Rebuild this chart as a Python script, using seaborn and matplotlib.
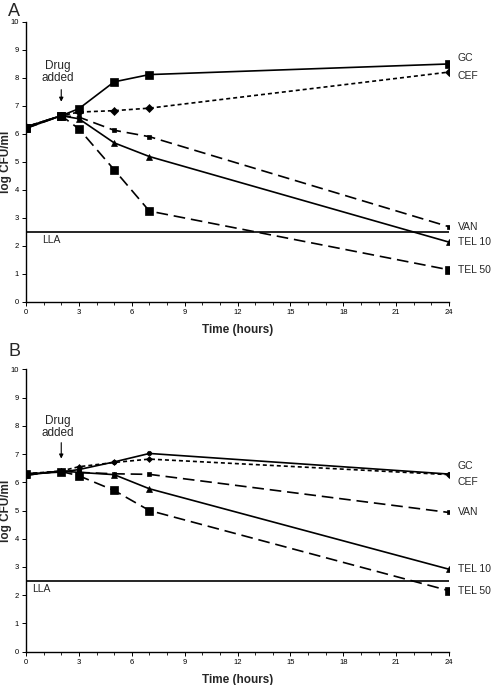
import matplotlib
matplotlib.use("Agg")
import matplotlib.pyplot as plt
import seaborn as sns
import numpy as np
import pandas as pd

sns.set_theme(style="white")
plt.rcParams['font.family'] = ['Liberation Sans', 'DejaVu Sans']

times = [0, 2, 3, 5, 7, 24]
series_names = ["GC", "CEF", "VAN", "TEL 10", "TEL 50"]

# Panel A values (log CFU/ml)
a_gc = [6.2, 6.65, 6.9, 7.86, 8.12, 8.5]
a_cef = [6.25, 6.65, 6.78, 6.83, 6.92, 8.21]
a_van = [6.25, 6.65, 6.6, 6.13, 5.9, 2.68]
a_tel10 = [6.25, 6.65, 6.54, 5.68, 5.19, 2.13]
a_tel50 = [6.2, 6.65, 6.18, 4.72, 3.24, 1.14]

# Panel B values
b_gc = [6.3, 6.36, 6.45, 6.72, 7.02, 6.29]
b_cef = [6.3, 6.4, 6.55, 6.7, 6.82, 6.27]
b_van = [6.25, 6.4, 6.35, 6.3, 6.28, 4.93]
b_tel10 = [6.25, 6.4, 6.35, 6.27, 5.77, 2.92]
b_tel50 = [6.3, 6.38, 6.23, 5.71, 5.0, 2.16]

lla = 2.5
x_ticks = [0, 3, 6, 9, 12, 15, 18, 21, 24]
y_ticks = [0, 1, 2, 3, 4, 5, 6, 7, 8, 9, 10]

panels = {
    "A": [a_gc, a_cef, a_van, a_tel10, a_tel50],
    "B": [b_gc, b_cef, b_van, b_tel10, b_tel50],
}

short_dash = (0, (2.4, 1.8))
long_dash = (0, (7, 3.5))
styles_A = [
    dict(marker="s", markersize=5.2, linestyle="-"),
    dict(marker="D", markersize=3.6, linestyle=short_dash),
    dict(marker="s", markersize=3.0, linestyle=long_dash),
    dict(marker="^", markersize=3.8, linestyle="-"),
    dict(marker="s", markersize=5.2, linestyle=long_dash),
]
styles_B = [
    dict(marker="o", markersize=3.2, linestyle="-"),
    dict(marker="D", markersize=3.0, linestyle=short_dash),
    dict(marker="s", markersize=3.0, linestyle=long_dash),
    dict(marker="^", markersize=3.8, linestyle="-"),
    dict(marker="s", markersize=5.2, linestyle=long_dash),
]

label_offsets = {
    "A": [0.2, -0.15, 0.0, 0.0, 0.0],
    "B": [0.3, -0.25, 0.0, 0.0, 0.0],
}
lla_label_x = {"A": 0.9, "B": 0.35}
drug_text_y = {"A": 8.22, "B": 7.95}
arrow_from = {"A": 7.68, "B": 7.5}
arrow_to = {"A": 7.05, "B": 6.74}

fig = plt.figure(figsize=(4.92, 6.85), dpi=100)
W, H = 492, 685
ax_boxes = {
    "A": [26 / W, (H - 301.7) / H, 423 / W, 279.7 / H],
    "B": [26 / W, (H - 651.7) / H, 423 / W, 282.4 / H],
}
letter_y = {"A": 11, "B": 352}

for key in ["A", "B"]:
    ax = fig.add_axes(ax_boxes[key])
    vals = panels[key]
    styles = styles_A if key == "A" else styles_B
    for name, v, st in zip(series_names, vals, styles):
        df = pd.DataFrame({"Time": times, "CFU": v})
        sns.lineplot(data=df, x="Time", y="CFU", ax=ax, color="black",
                     linewidth=1.2, marker=st["marker"], markersize=st["markersize"],
                     linestyle=st["linestyle"], markeredgecolor="black",
                     markeredgewidth=0.5)
    ax.axhline(lla, color="black", linewidth=1.2, xmin=0, xmax=1)
    ax.text(lla_label_x[key], lla - 0.12, "LLA", fontsize=7.5, va="top", ha="left")

    # series labels at right
    for name, v, off in zip(series_names, vals, label_offsets[key]):
        ax.text(24.5, v[-1] + off, name, fontsize=7.5, va="center", ha="left",
                clip_on=False)

    ax.set_xlim(0, 24)
    ax.set_ylim(0, 10)
    ax.set_xticks(x_ticks)
    ax.set_xticks(range(0, 25), minor=True)
    ax.set_yticks(y_ticks)
    ax.tick_params(axis="both", which="major", labelsize=5.5, length=3,
                   width=0.7, direction="out", bottom=True, left=True,
                   colors="black", pad=2)
    ax.tick_params(axis="x", which="minor", length=2, width=0.7,
                   direction="out", bottom=True)
    for s in ["top", "right"]:
        ax.spines[s].set_visible(False)
    for s in ["left", "bottom"]:
        ax.spines[s].set_color("black")
        ax.spines[s].set_linewidth(1.0)
    ax.set_xlabel("Time (hours)", fontsize=8.5, fontweight="bold", labelpad=6)
    ax.set_ylabel("log CFU/ml", fontsize=8.5, fontweight="bold")
    ax.yaxis.set_label_coords(-0.034, 0.5)
    ax.grid(False)

    # Drug added annotation
    ax.annotate("", xy=(2, arrow_to[key]), xytext=(2, arrow_from[key]),
                arrowprops=dict(arrowstyle="-|>", color="black", lw=0.8,
                                mutation_scale=6))
    ax.text(1.8, drug_text_y[key], "Drug\nadded", fontsize=8.5, ha="center",
            va="center", linespacing=1.0)

    fig.text(8 / W, 1 - letter_y[key] / H, key, fontsize=13,
             ha="left", va="center")

fig.savefig("out.png", dpi=100)
